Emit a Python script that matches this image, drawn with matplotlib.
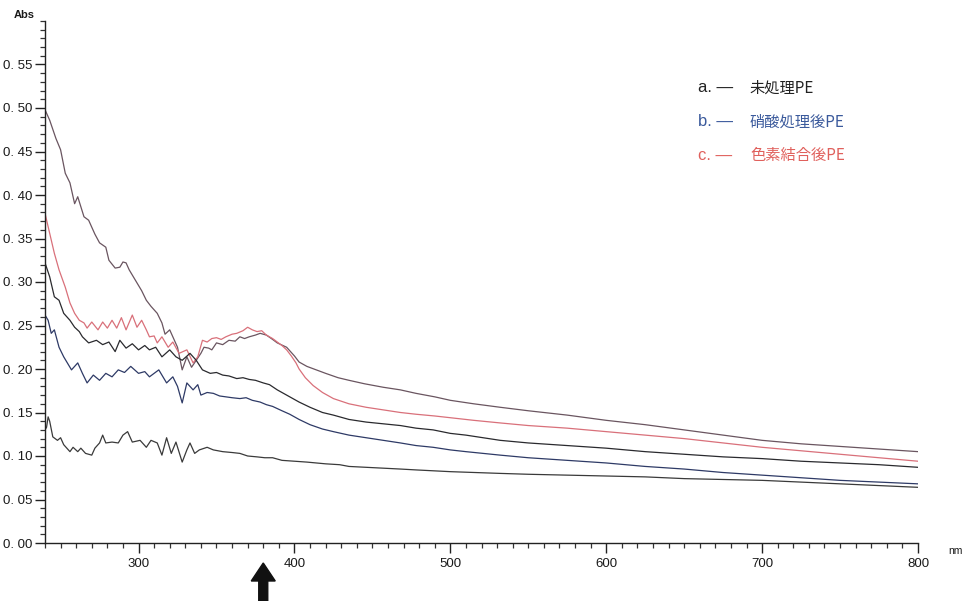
import matplotlib
matplotlib.use("Agg")
import matplotlib.pyplot as plt
import matplotlib.patches as mpatches
from matplotlib.transforms import IdentityTransform
from matplotlib.ticker import MultipleLocator, FixedLocator, FixedFormatter

# ---------------- data ----------------
nm_1 = [240, 243, 247, 250, 253, 256, 258, 259, 261, 265, 268, 272, 275, 279, 281, 285, 288, 290,
        292, 294, 299, 302, 305, 308, 310, 312, 315, 317, 320, 323, 325, 328, 331, 334, 337, 340,
        342, 345, 347, 350, 354, 358, 362, 365, 368, 371, 375, 378, 382, 386, 389, 395, 400, 403,
        408, 414, 420, 428, 435, 445, 457, 468, 478, 490, 500, 515, 532, 550, 575, 600, 625, 650,
        675, 700, 725, 750, 775, 800]
abs_1 = [0.498, 0.486, 0.465, 0.452, 0.425, 0.414, 0.398, 0.390, 0.398, 0.375, 0.371, 0.355, 0.345,
         0.340, 0.325, 0.316, 0.317, 0.323, 0.322, 0.314, 0.299, 0.290, 0.279, 0.272, 0.268, 0.264,
         0.253, 0.240, 0.245, 0.233, 0.225, 0.199, 0.214, 0.202, 0.210, 0.218, 0.225, 0.224, 0.222,
         0.230, 0.228, 0.233, 0.232, 0.237, 0.235, 0.237, 0.239, 0.241, 0.239, 0.234, 0.230, 0.225,
         0.215, 0.208, 0.203, 0.199, 0.195, 0.190, 0.187, 0.183, 0.179, 0.176, 0.172, 0.168, 0.164,
         0.160, 0.156, 0.152, 0.147, 0.141, 0.136, 0.130, 0.124, 0.118, 0.114, 0.111, 0.108, 0.105]

nm_2 = [240, 243, 246, 249, 253, 256, 259, 262, 265, 267, 270, 274, 277, 280, 283, 286, 289, 292,
        296, 299, 302, 305, 307, 310, 312, 315, 319, 322, 326, 331, 335, 338, 341, 344, 347, 350,
        353, 356, 360, 363, 367, 370, 373, 376, 379, 382, 386, 389, 392, 395, 398, 401, 403, 407,
        412, 418, 425, 435, 446, 457, 468, 478, 490, 500, 515, 532, 550, 575, 600, 625, 650, 675,
        700, 725, 750, 775, 800]
abs_2 = [0.379, 0.356, 0.333, 0.314, 0.294, 0.276, 0.264, 0.256, 0.253, 0.247, 0.254, 0.245, 0.254,
         0.247, 0.256, 0.247, 0.259, 0.245, 0.262, 0.248, 0.256, 0.245, 0.237, 0.238, 0.230, 0.237,
         0.225, 0.231, 0.218, 0.222, 0.207, 0.214, 0.233, 0.231, 0.235, 0.236, 0.234, 0.237, 0.240,
         0.241, 0.244, 0.248, 0.245, 0.243, 0.244, 0.239, 0.235, 0.231, 0.227, 0.222, 0.215, 0.207,
         0.200, 0.190, 0.181, 0.173, 0.166, 0.160, 0.156, 0.153, 0.150, 0.148, 0.146, 0.144, 0.141,
         0.138, 0.135, 0.132, 0.128, 0.124, 0.120, 0.115, 0.110, 0.106, 0.102, 0.098, 0.094]

nm_3 = [240, 243, 246, 249, 252, 256, 259, 262, 264, 268, 273, 277, 281, 285, 288, 292, 296, 300,
        304, 307, 311, 315, 320, 324, 328, 333, 337, 341, 346, 350, 354, 358, 363, 367, 371, 375,
        380, 384, 389, 393, 397, 403, 410, 418, 425, 435, 446, 457, 468, 478, 489, 500, 510, 532,
        550, 575, 600, 625, 650, 675, 700, 725, 750, 775, 800]
abs_3 = [0.322, 0.306, 0.283, 0.279, 0.264, 0.256, 0.248, 0.243, 0.237, 0.230, 0.233, 0.228, 0.231,
         0.220, 0.233, 0.224, 0.229, 0.222, 0.227, 0.222, 0.225, 0.214, 0.222, 0.214, 0.210, 0.218,
         0.210, 0.199, 0.195, 0.196, 0.193, 0.192, 0.189, 0.190, 0.188, 0.187, 0.184, 0.182, 0.176,
         0.172, 0.168, 0.162, 0.156, 0.150, 0.147, 0.142, 0.139, 0.137, 0.135, 0.132, 0.130, 0.126,
         0.124, 0.118, 0.115, 0.112, 0.109, 0.105, 0.102, 0.099, 0.097, 0.094, 0.092, 0.090, 0.087]

nm_4 = [240, 242, 244, 246, 249, 252, 257, 261, 264, 267, 271, 275, 279, 283, 287, 291, 295, 300,
        304, 307, 313, 318, 322, 325, 328, 331, 335, 338, 340, 344, 348, 352, 356, 360, 365, 369,
        373, 378, 382, 386, 392, 397, 403, 410, 418, 425, 435, 446, 457, 468, 478, 489, 500, 510,
        532, 550, 575, 600, 625, 650, 675, 700, 725, 750, 775, 800]
abs_4 = [0.262, 0.256, 0.241, 0.245, 0.225, 0.214, 0.199, 0.207, 0.195, 0.184, 0.193, 0.187, 0.195,
         0.191, 0.199, 0.196, 0.203, 0.195, 0.197, 0.191, 0.199, 0.184, 0.191, 0.180, 0.161, 0.184,
         0.176, 0.182, 0.170, 0.173, 0.172, 0.169, 0.168, 0.167, 0.166, 0.167, 0.164, 0.162, 0.159,
         0.157, 0.152, 0.148, 0.142, 0.136, 0.131, 0.128, 0.124, 0.121, 0.118, 0.115, 0.112, 0.110,
         0.107, 0.105, 0.101, 0.098, 0.095, 0.092, 0.088, 0.085, 0.081, 0.078, 0.075, 0.072, 0.070,
         0.068]

nm_5 = [240, 241, 242, 243, 245, 248, 250, 252, 256, 258, 261, 263, 266, 270, 272, 275, 277, 279,
        283, 287, 290, 293, 296, 301, 305, 308, 312, 315, 318, 321, 324, 328, 331, 333, 336, 339,
        344, 348, 354, 360, 365, 370, 376, 381, 386, 392, 400, 408, 414, 420, 429, 435, 446, 457,
        468, 478, 489, 500, 532, 550, 575, 600, 625, 650, 675, 700, 725, 750, 775, 800]
abs_5 = [0.130, 0.133, 0.145, 0.140, 0.122, 0.118, 0.121, 0.113, 0.105, 0.110, 0.105, 0.109, 0.103,
         0.101, 0.109, 0.115, 0.124, 0.115, 0.116, 0.115, 0.124, 0.128, 0.116, 0.118, 0.110, 0.118,
         0.115, 0.101, 0.121, 0.103, 0.116, 0.093, 0.107, 0.115, 0.103, 0.107, 0.110, 0.107, 0.105,
         0.104, 0.103, 0.100, 0.099, 0.098, 0.098, 0.095, 0.094, 0.093, 0.092, 0.091, 0.090, 0.088,
         0.087, 0.086, 0.085, 0.084, 0.083, 0.082, 0.080, 0.079, 0.078, 0.077, 0.076, 0.074, 0.073,
         0.072, 0.070, 0.068, 0.066, 0.064]

legend_marks = ["a. —", "b. —", "c. —"]
legend_names = ["未処理PE", "硝酸処理後PE", "色素結合後PE"]
legend_colors = ["#222222", "#3b5a9c", "#e0605c"]

x_major = [300, 400, 500, 600, 700, 800]
y_major = [0.00, 0.05, 0.10, 0.15, 0.20, 0.25, 0.30, 0.35, 0.40, 0.45, 0.50, 0.55]
y_labels = ["0. 00", "0. 05", "0. 10", "0. 15", "0. 20", "0. 25", "0. 30", "0. 35",
            "0. 40", "0. 45", "0. 50", "0. 55"]
arrow_nm = 380

# ---------------- figure ----------------
W, H = 965, 601
fig = plt.figure(figsize=(W / 100, H / 100), dpi=100)
ax = fig.add_axes([45 / W, 58 / H, (918 - 45) / W, (543 - 21) / H])

lw = 0.9
ax.plot(nm_1, abs_1, color="#6a5560", lw=lw)
ax.plot(nm_2, abs_2, color="#d9707a", lw=lw)
ax.plot(nm_3, abs_3, color="#2a2a2e", lw=lw)
ax.plot(nm_4, abs_4, color="#2e3a66", lw=lw)
ax.plot(nm_5, abs_5, color="#3a3a3a", lw=lw)

ax.set_xlim(240, 800)
ax.set_ylim(0, 0.60)

for s in ("top", "right"):
    ax.spines[s].set_visible(False)
for s in ("left", "bottom"):
    ax.spines[s].set_color("#222222")
    ax.spines[s].set_linewidth(1.0)

ax.xaxis.set_major_locator(FixedLocator(x_major))
ax.xaxis.set_minor_locator(MultipleLocator(10))
ax.yaxis.set_major_locator(FixedLocator(y_major))
ax.yaxis.set_major_formatter(FixedFormatter(y_labels))
ax.yaxis.set_minor_locator(MultipleLocator(0.01))
ax.tick_params(axis="both", which="major", direction="out", length=7, width=1.0,
               color="#222222", labelsize=9.5, labelcolor="#1a1a1a")
ax.tick_params(axis="both", which="minor", direction="out", length=3.5, width=0.9,
               color="#333333")
ax.tick_params(axis="x", which="major", pad=4)
ax.tick_params(axis="y", which="major", pad=2)
for lab in ax.get_xticklabels() + ax.get_yticklabels():
    lab.set_fontfamily("Liberation Sans")

fig.text(14 / W, 1 - 15 / H, "Abs", fontsize=8, fontweight="bold", color="#1a1a1a",
         va="center", ha="left", family="Liberation Sans")
fig.text(948 / W, 1 - 551 / H, "nm", fontsize=7.5, color="#1a1a1a", va="center", ha="left",
         family="Liberation Sans")

# legend text
ys = [88, 122, 155]
for mark, name, col, yp in zip(legend_marks, legend_names, legend_colors, ys):
    fig.text(698 / W, 1 - yp / H, mark, fontsize=12, color=col, va="center", ha="left",
             family=["Liberation Sans", "DejaVu Sans"])
    fig.text(750 / W, 1 - yp / H, name, fontsize=11, color=col, va="center", ha="left",
             family=["Noto Sans CJK JP", "DejaVu Sans"])

# arrow under the axis pointing at the chosen wavelength
fig.canvas.draw()
xd, _ = ax.transData.transform((arrow_nm, 0))
arrow = mpatches.FancyArrow(xd, -2, 0, 40, width=9, head_width=24, head_length=18,
                            length_includes_head=True, transform=IdentityTransform(),
                            color="#111111")
fig.add_artist(arrow)

fig.savefig("out.png", dpi=100)
